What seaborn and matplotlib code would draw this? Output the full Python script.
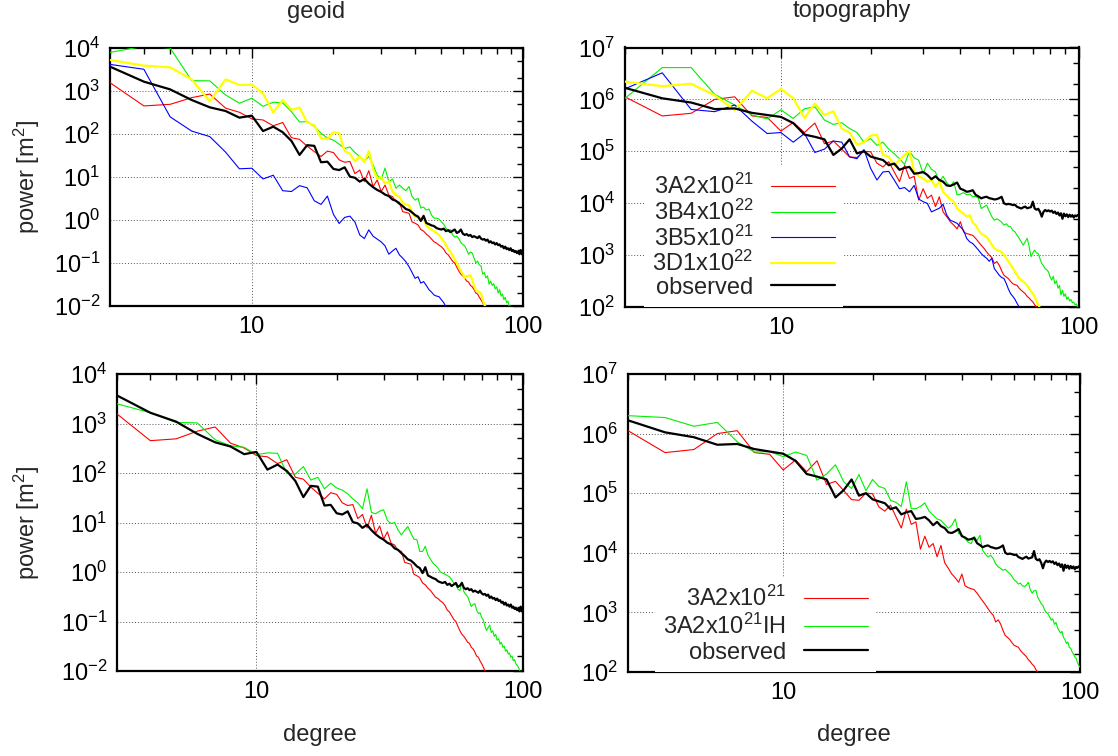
import numpy as np
import pandas as pd
import matplotlib
matplotlib.use("Agg")
import matplotlib.pyplot as plt
from matplotlib.ticker import FixedLocator, LogLocator, LogFormatterSciNotation, NullFormatter, FixedFormatter
import seaborn as sns

# ---------------- data (power spectra, degree 3..) ----------------
degree_start = 3

geoid_3A2 = [1560, 450, 490, 700, 850, 400, 320, 225, 212, 155, 185, 82, 75, 52, 39, 30, 40, 37, 25, 22,
             23, 12, 14.5, 7.8, 14, 6, 8.5, 4.6, 6.5, 3.8, 3.5, 2.7, 2.6, 1.56, 1.5, 1.43, 0.9, 0.84, 0.77, 0.6,
             0.55, 0.47, 0.42, 0.36, 0.31, 0.29, 0.26, 0.24, 0.21, 0.17, 0.155, 0.13, 0.11, 0.1, 0.08, 0.065, 0.055, 0.05, 0.044, 0.038,
             0.036, 0.03, 0.028, 0.024, 0.02, 0.019, 0.016, 0.014, 0.012, 0.01, 0.0085, 0.007]
geoid_3B4 = [7900, 11000, 10000, 1740, 1720, 810, 520, 680, 440, 550, 530, 330, 190, 195, 150, 105, 80, 72, 58, 46,
             50, 37, 30, 23, 30, 19, 11, 9, 16, 7.8, 9, 5.5, 6.5, 5.5, 4.8, 6.0, 3.5, 2.9, 3.2, 1.9,
             2.0, 1.7, 1.8, 1.3, 1.1, 1.1, 1.05, 0.9, 0.8, 0.65, 0.55, 0.6, 0.45, 0.4, 0.42, 0.37, 0.3, 0.27, 0.25, 0.2,
             0.16, 0.18, 0.17, 0.13, 0.1, 0.11, 0.09, 0.085, 0.055, 0.06, 0.045, 0.05, 0.032, 0.038, 0.03, 0.033, 0.025, 0.028, 0.02, 0.024,
             0.017, 0.019, 0.014, 0.016, 0.012, 0.013, 0.0095, 0.01, 0.008, 0.007]
geoid_3B5 = [4160, 3200, 250, 117, 87, 38, 15.5, 16, 9, 11, 4.8, 4.6, 6.3, 5.6, 2.8, 2.3, 3.6, 1.35, 0.83, 1.15,
             1.23, 0.9, 0.45, 0.37, 0.59, 0.42, 0.36, 0.31, 0.25, 0.16, 0.19, 0.22, 0.155, 0.13, 0.107, 0.082, 0.06, 0.044, 0.048, 0.034,
             0.037, 0.03, 0.024, 0.021, 0.018, 0.017, 0.0165, 0.014, 0.012, 0.0095, 0.008]
geoid_3D1 = [5250, 3900, 3550, 1870, 570, 1870, 1380, 1400, 880, 316, 620, 365, 410, 185, 160, 80, 76, 109, 105, 40,
             35, 23, 30, 22, 40, 15.5, 9, 10, 7, 8, 4.6, 3.8, 3.5, 2.5, 2.3, 2.2, 1.5, 1.2, 1.15, 1.1,
             1.1, 0.75, 0.65, 0.6, 0.55, 0.5, 0.45, 0.38, 0.32, 0.26, 0.21, 0.18, 0.15, 0.12, 0.1, 0.08, 0.065, 0.055, 0.045, 0.05,
             0.05, 0.052, 0.04, 0.03, 0.023, 0.022, 0.021, 0.02, 0.014, 0.011, 0.009]
geoid_obs = [3680, 1650, 1090, 618, 417, 343, 240, 267, 117, 148, 110, 69, 32.6, 55, 53, 22, 22.7, 15.4, 14.5, 16.8,
             10.2, 9.6, 7.8, 9.0, 7.0, 5.8, 5.0, 4.5, 3.9, 3.6, 3.0, 2.8, 2.4, 2.1, 1.8, 1.7, 1.5, 1.3, 1.2, 0.95,
             1.25, 0.85, 0.8, 0.75, 0.72, 0.65, 0.62, 0.6, 0.63, 0.55, 0.58, 0.52, 0.56, 0.6, 0.5, 0.53, 0.6, 0.48, 0.45, 0.47,
             0.43, 0.45, 0.4, 0.42, 0.4, 0.38, 0.42, 0.37, 0.35, 0.36, 0.33, 0.35, 0.3, 0.32, 0.29, 0.3, 0.27, 0.29, 0.26, 0.27,
             0.24, 0.25, 0.22, 0.24, 0.21, 0.22, 0.2, 0.22, 0.19, 0.2, 0.18, 0.19, 0.17, 0.18, 0.16, 0.2, 0.16, 0.17]
geoid_3A2IH = [2500, 1650, 1050, 1030, 470, 355, 330, 235, 255, 250, 100, 95, 135, 72, 82, 48, 62, 50, 45, 38,
               30, 25, 19, 48, 16, 15, 17, 18, 11, 9.5, 10, 7, 5.6, 7, 8.3, 6, 4.6, 4.5, 2.6, 2.6,
               3.3, 2.2, 1.8, 1.5, 1.35, 1.2, 1.0, 0.95, 0.9, 0.85, 0.8, 0.7, 0.6, 0.55, 0.45, 0.42, 0.63, 0.4, 0.35, 0.32,
               0.25, 0.2, 0.22, 0.23, 0.17, 0.145, 0.15, 0.12, 0.107, 0.08, 0.066, 0.075, 0.085, 0.06, 0.065, 0.05, 0.055, 0.042, 0.045, 0.035,
               0.038, 0.03, 0.032, 0.025, 0.027, 0.022, 0.023, 0.019, 0.02, 0.016, 0.017, 0.014, 0.013, 0.012, 0.0105, 0.0095, 0.0085, 0.008]

topo_3A2 = [1.12e6, 4.8e5, 5.4e5, 1.0e6, 1.12e6, 4.8e5, 4.5e5, 2.45e5, 3.6e5, 2.3e5, 3.5e5, 1.4e5, 1.58e5, 1.1e5, 7.8e4, 7.6e4, 1.0e5, 9.8e4, 5.9e4, 5.0e4,
            6.3e4, 4.0e4, 2.6e4, 5.4e4, 3.0e4, 3.3e4, 1.15e4, 1.9e4, 1.24e4, 1.43e4, 8.6e3, 1.33e4, 6.8e3, 5.5e3, 4.4e3, 3.8e3, 3.2e3, 4.4e3, 2.8e3, 2.6e3,
            2.5e3, 2.4e3, 2.1e3, 1.8e3, 1.55e3, 1.35e3, 1.15e3, 1.0e3, 9e2, 6.9e2, 7.5e2, 6.4e2, 5e2, 4.1e2, 3.8e2, 3.5e2, 3.1e2, 2.8e2, 2.7e2, 2.6e2,
            2.3e2, 2.1e2, 1.95e2, 1.8e2, 1.6e2, 1.5e2, 1.35e2, 1.26e2, 1.1e2, 1.0e2, 85]
topo_3B4 = [1.05e6, 4.1e6, 4.1e6, 1.25e6, 7.8e5, 5.0e5, 4.2e5, 6.3e5, 4.3e5, 6.6e5, 7.2e5, 4.0e5, 3.3e5, 3.55e5, 2.75e5, 2.3e5, 1.5e5, 1.75e5, 1.3e5, 1.5e5,
            1.1e5, 9e4, 7.2e4, 5.6e4, 1.0e5, 7.5e4, 6.7e4, 3.7e4, 5.9e4, 4.5e4, 4.0e4, 2.6e4, 3.3e4, 2.5e4, 2.1e4, 2.6e4, 1.44e4, 1.5e4, 1.6e4, 1.45e4,
            1.5e4, 1.33e4, 1.35e4, 1.24e4, 7.9e3, 8.5e3, 9.2e3, 7.0e3, 5.5e3, 4.7e3, 5.0e3, 4.7e3, 4.3e3, 3.8e3, 4.0e3, 3.6e3, 3.5e3, 3.0e3, 2.8e3, 2.4e3,
            2.1e3, 1.8e3, 1.55e3, 1.8e3, 2.1e3, 1.5e3, 9.3e2, 1.1e3, 1.25e3, 1.1e3, 1.07e3, 8.5e2, 6.9e2, 6.2e2, 5.5e2, 5.2e2, 4.75e2, 3.8e2, 3.3e2, 3.9e2,
            2.8e2, 3.2e2, 2.3e2, 2.6e2, 1.7e2, 2.1e2, 1.6e2, 1.8e2, 1.4e2, 1.55e2, 1.3e2, 1.4e2, 1.2e2, 1.25e2, 1.1e2, 1.15e2, 1.0e2, 95]
topo_3B5 = [1.6e6, 3.25e6, 6.4e5, 5.8e5, 7.8e5, 3.8e5, 2.2e5, 2.3e5, 1.5e5, 2.2e5, 9.5e4, 1.1e5, 1.58e5, 1.5e5, 7.8e4, 7.2e4, 1.08e5, 4.7e4, 2.8e4, 4.0e4,
            4.1e4, 2.8e4, 1.9e4, 2.0e4, 1.66e4, 2.2e4, 1.2e4, 1.07e4, 9.9e3, 6.8e3, 7.4e3, 8.0e3, 9.5e3, 5.9e3, 4.7e3, 4.4e3, 4.1e3, 3.5e3, 3.0e3, 2.1e3,
            1.8e3, 1.67e3, 1.45e3, 1.25e3, 1.07e3, 9.5e2, 8.7e2, 7.6e2, 8.7e2, 5.5e2, 4.75e2, 4.1e2, 3.7e2, 3.55e2, 2.85e2, 2.2e2, 1.8e2, 1.6e2, 1.4e2, 1.17e2,
            1.0e2, 85]
topo_3D1 = [2.2e6, 1.8e6, 2.0e6, 1.2e6, 6.2e5, 1.47e6, 1.05e6, 1.6e6, 1.05e6, 4.4e5, 8.3e5, 5.0e5, 5.9e5, 2.75e5, 2.3e5, 1.35e5, 1.48e5, 2.0e5, 2.1e5, 8.5e4,
            7.9e4, 5.3e4, 6.8e4, 8.5e4, 1.0e5, 4.0e4, 3.3e4, 3.0e4, 2.6e4, 2.8e4, 2.1e4, 2.6e4, 1.66e4, 1.4e4, 1.2e4, 1.07e4, 7.9e3, 7.0e3, 6.3e3, 5.5e3,
            5.9e3, 4.2e3, 3.8e3, 3.0e3, 2.6e3, 2.4e3, 2.25e3, 1.9e3, 1.6e3, 1.35e3, 1.25e3, 1.2e3, 1.15e3, 1.0e3, 8.7e2, 7.5e2, 6.5e2, 5.6e2, 4.8e2, 4.1e2,
            3.55e2, 3.3e2, 3.1e2, 2.85e2, 2.6e2, 2.3e2, 2.0e2, 1.83e2, 1.58e2, 1.3e2, 1.1e2, 95]
topo_obs = [1.67e6, 1.05e6, 8.7e5, 6.5e5, 6.7e5, 5.5e5, 5.0e5, 4.6e5, 3.5e5, 2.1e5, 1.9e5, 1.7e5, 8.5e4, 1.13e5, 1.7e5, 9.1e4, 1.0e5, 7.9e4, 7.3e4, 6.8e4,
            5.4e4, 5.8e4, 4.4e4, 4.8e4, 5.0e4, 3.7e4, 3.8e4, 4.0e4, 3.5e4, 2.9e4, 3.3e4, 2.8e4, 2.6e4, 2.2e4, 2.15e4, 2.3e4, 2.5e4, 1.9e4, 1.8e4, 1.66e4,
            1.7e4, 1.78e4, 1.45e4, 1.35e4, 1.24e4, 1.3e4, 1.33e4, 1.25e4, 1.22e4, 1.18e4, 1.2e4, 1.25e4, 1.33e4, 1.0e4, 9.5e3, 9.7e3, 9.5e3, 9.2e3, 9.3e3, 8.5e3,
            8.2e3, 7.9e3, 8.3e3, 8.6e3, 8.0e3, 8.2e3, 8.4e3, 1.07e4, 7.9e3, 7.5e3, 7.8e3, 6.8e3, 5.5e3, 6.8e3, 7.4e3, 7.0e3, 7.3e3, 6.9e3, 7.2e3, 6.5e3,
            6.9e3, 6.2e3, 6.6e3, 5.8e3, 6.4e3, 5.0e3, 6.3e3, 5.6e3, 6.1e3, 5.4e3, 6.0e3, 5.5e3, 5.9e3, 5.3e3, 5.8e3, 5.6e3, 5.9e3, 6.0e3]
topo_3A2IH = [2.0e6, 1.86e6, 1.33e6, 1.54e6, 7.3e5, 4.9e5, 5.0e5, 4.1e5, 4.9e5, 4.3e5, 1.65e5, 2.1e5, 3.0e5, 1.55e5, 1.2e5, 2.06e5, 1.1e5, 1.7e5, 1.3e5, 1.2e5,
              7.6e4, 7.0e4, 6.0e4, 1.55e5, 5.5e4, 5.5e4, 6.0e4, 6.9e4, 5.0e4, 4.3e4, 3.7e4, 3.5e4, 3.0e4, 2.6e4, 2.9e4, 3.7e4, 2.1e4, 2.0e4, 1.73e4, 1.5e4,
              1.43e4, 1.87e4, 1.6e4, 1.97e4, 1.1e4, 9.5e3, 8.5e3, 9.1e3, 8.0e3, 6.5e3, 5.8e3, 5.5e3, 5.1e3, 5.3e3, 4.8e3, 4.5e3, 4.0e3, 3.5e3, 3.3e3, 3.0e3,
              3.1e3, 2.8e3, 2.7e3, 2.9e3, 3.2e3, 2.4e3, 2.1e3, 2.3e3, 2.35e3, 1.8e3, 1.6e3, 1.4e3, 1.3e3, 1.1e3, 1.0e3, 9.5e2, 8.4e2, 7.4e2, 7.8e2, 6.3e2,
              6.8e2, 5.5e2, 5.0e2, 4.5e2, 4.8e2, 3.8e2, 3.5e2, 3.0e2, 3.2e2, 2.6e2, 2.5e2, 2.2e2, 2.0e2, 1.8e2, 1.7e2, 1.45e2, 1.3e2, 1.2e2]

labels_top = ["3A2x10$^{21}$", "3B4x10$^{22}$", "3B5x10$^{21}$", "3D1x10$^{22}$", "observed"]
labels_bottom = ["3A2x10$^{21}$", "3A2x10$^{21}$IH", "observed"]
titles = ["geoid", "topography"]
xlabel = "degree"
ylabel = "power [m$^2$]"

# ---------------- style ----------------
sns.set_style("white")
plt.rcParams["font.family"] = ["Liberation Sans", "DejaVu Sans"]
plt.rcParams["mathtext.fontset"] = "custom"
plt.rcParams["mathtext.rm"] = "Liberation Sans"
plt.rcParams["mathtext.it"] = "Liberation Sans:italic"
plt.rcParams["mathtext.bf"] = "Liberation Sans:bold"
plt.rcParams["axes.unicode_minus"] = False

FS = 17
W, H = 1118, 756
DPI = 100
fig = plt.figure(figsize=(W / DPI, H / DPI), dpi=DPI)
fig.patch.set_facecolor("white")


def add_ax(l, r, t, b):
    return fig.add_axes([l / W, 1 - b / H, (r - l) / W, (b - t) / H])


ax_tl = add_ax(110, 523, 48, 306)
ax_tr = add_ax(625, 1079, 47.5, 307)
ax_bl = add_ax(117, 523, 374, 671)
ax_br = add_ax(628, 1080, 374, 672)

C_RED, C_GREEN, C_BLUE, C_YEL, C_BLK = "#ff0000", "#00f000", "#0000ff", "#ffff00", "#000000"
THIN, THICK = 0.8, 1.6


def draw(ax, series, colors, widths, labels):
    handles = []
    for vals, c, lw, lab in zip(series, colors, widths, labels):
        deg = np.arange(degree_start, degree_start + len(vals))
        df = pd.DataFrame({"degree": deg, "power": vals})
        sns.lineplot(data=df, x="degree", y="power", ax=ax, color=c, linewidth=lw,
                     estimator=None, sort=True, legend=False, zorder=3)
        handles.append(plt.Line2D([], [], color=c, linewidth=lw, label=lab))
    return handles


def style(ax, ylim):
    ax.set_xscale("log")
    ax.set_yscale("log")
    ax.set_xlim(3, 100)
    ax.set_ylim(*ylim)
    ax.xaxis.set_major_locator(FixedLocator([10, 100]))
    ax.xaxis.set_major_formatter(FixedFormatter(["10", "100"]))
    ax.xaxis.set_minor_locator(FixedLocator([3, 4, 5, 6, 7, 8, 9, 20, 30, 40, 50, 60, 70, 80, 90]))
    ax.xaxis.set_minor_formatter(NullFormatter())
    ax.yaxis.set_major_locator(LogLocator(base=10, numticks=20))
    ax.yaxis.set_major_formatter(LogFormatterSciNotation())
    ax.yaxis.set_minor_locator(LogLocator(base=10, subs=(2.0, 5.0), numticks=20))
    ax.yaxis.set_minor_formatter(NullFormatter())
    ax.tick_params(which="both", direction="in", top=True, right=True, labelsize=FS, colors="black")
    ax.tick_params(which="major", length=7, width=1.0, pad=7)
    ax.tick_params(which="minor", length=4, width=1.0)
    ax.grid(True, which="major", color="#555555", linestyle=(0, (1, 2)), linewidth=0.7)
    ax.grid(False, which="minor")
    for s in ax.spines.values():
        s.set_color("black")
        s.set_linewidth(1.6)
        s.set_visible(True)
    ax.set_xlabel("")
    ax.set_ylabel("")
    ax.set_facecolor("white")


# top row
draw(ax_tl, [geoid_3A2, geoid_3B4, geoid_3B5, geoid_3D1, geoid_obs],
     [C_RED, C_GREEN, C_BLUE, C_YEL, C_BLK], [THIN, THIN, THIN, THICK, THICK], labels_top)
h_tr = draw(ax_tr, [topo_3A2, topo_3B4, topo_3B5, topo_3D1, topo_obs],
            [C_RED, C_GREEN, C_BLUE, C_YEL, C_BLK], [THIN, THIN, THIN, THICK, THICK], labels_top)
# bottom row
draw(ax_bl, [geoid_3A2, geoid_3A2IH, geoid_obs], [C_RED, C_GREEN, C_BLK], [THIN, THIN, THICK], labels_bottom)
h_br = draw(ax_br, [topo_3A2, topo_3A2IH, topo_obs], [C_RED, C_GREEN, C_BLK], [THIN, THIN, THICK], labels_bottom)

for ax in (ax_tl, ax_bl):
    style(ax, (1e-2, 1e4))
for ax in (ax_tr, ax_br):
    style(ax, (1e2, 1e7))

ax_tl.text(0.5, 1 + 36 / 258, titles[0], transform=ax_tl.transAxes, ha="center", va="center", fontsize=FS)
ax_tr.text(0.5, 1 + 36 / 259.5, titles[1], transform=ax_tr.transAxes, ha="center", va="center", fontsize=FS)

ax_tl.set_ylabel(ylabel, fontsize=FS)
ax_tl.yaxis.set_label_coords((42 - 110) / 413, 0.5)
ax_bl.set_ylabel(ylabel, fontsize=FS)
ax_bl.yaxis.set_label_coords((42 - 117) / 406, 0.5)
ax_bl.set_xlabel(xlabel, fontsize=FS)
ax_bl.xaxis.set_label_coords(0.5, (671 - 724) / 297)
ax_br.set_xlabel(xlabel, fontsize=FS)
ax_br.xaxis.set_label_coords(0.5, (672 - 724) / 298)

leg_kw = dict(markerfirst=False, frameon=True, fancybox=False, framealpha=1.0, facecolor="white",
              edgecolor="none", fontsize=FS, handlelength=2.7, handletextpad=0.75,
              borderaxespad=0.0, loc="lower left")
lg = ax_tr.legend(handles=h_tr, labelspacing=0.02, borderpad=0.35,
                  bbox_to_anchor=((644 - 625) / 454, 0.0), **leg_kw)
lg.set_zorder(5)
lg2 = ax_br.legend(handles=h_br, labelspacing=0.12, borderpad=0.35,
                   bbox_to_anchor=((655 - 628) / 452, 0.0), **leg_kw)
lg2.set_zorder(5)

fig.savefig("out.png", dpi=DPI, facecolor="white")
